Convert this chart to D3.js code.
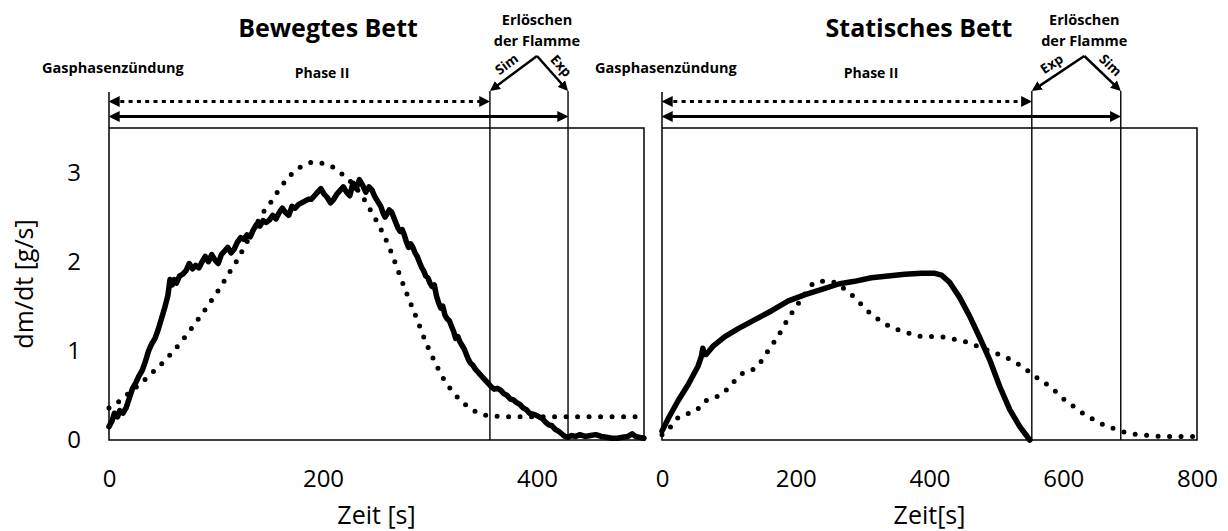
<!DOCTYPE html>
<html>
<head>
<meta charset="utf-8">
<script src="https://cdn.jsdelivr.net/npm/d3@7"></script>
<style>
body { margin: 0; background: #fff; }
svg { display: block; font-family: "Open Sans", sans-serif; }
</style>
</head>
<body>
<div id="chart"></div>
<script>
// ---- data ----
var yTicks = [0, 1, 2, 3];
var movingTicks = [0, 200, 400];
var staticTicks = [0, 200, 400, 600, 800];

// moving bed, experiment [t, dm/dt]
var movingExp = [[0,0.15],[3,0.22],[5,0.30],[8,0.26],[10,0.33],[13,0.30],[16,0.36],[19,0.47],[22,0.58],[25,0.64],
  [28,0.72],[31,0.78],[34,0.88],[37,1.00],[40,1.08],[43,1.14],[46,1.24],[49,1.36],[52,1.48],[55,1.62],
  [57,1.80],[59,1.74],[61,1.80],[63,1.76],[66,1.84],[69,1.86],[72,1.90],[75,1.98],[78,1.92],[81,1.96],
  [84,1.93],[87,2.00],[90,2.06],[93,2.00],[96,2.08],[99,2.02],[102,1.98],[105,2.08],[108,2.12],[111,2.16],
  [114,2.10],[117,2.14],[120,2.22],[123,2.27],[126,2.25],[129,2.30],[132,2.28],[135,2.36],[138,2.42],[141,2.40],
  [144,2.46],[147,2.44],[150,2.47],[153,2.52],[156,2.48],[159,2.55],[162,2.60],[165,2.55],[168,2.52],[171,2.62],
  [174,2.60],[177,2.64],[180,2.66],[183,2.68],[186,2.70],[189,2.70],[192,2.74],[195,2.78],[198,2.82],[201,2.76],
  [204,2.72],[207,2.66],[210,2.70],[213,2.76],[216,2.80],[219,2.84],[222,2.78],[225,2.74],[228,2.88],[231,2.82],
  [234,2.92],[237,2.86],[240,2.78],[243,2.84],[246,2.80],[248,2.74],[250,2.70],[252,2.66],[254,2.62],[256,2.55],
  [258,2.50],[260,2.54],[262,2.58],[264,2.56],[266,2.50],[268,2.44],[270,2.38],[272,2.34],[274,2.36],[276,2.30],
  [278,2.22],[280,2.16],[282,2.20],[284,2.16],[286,2.10],[288,2.06],[290,2.00],[292,1.94],[294,1.90],[296,1.84],
  [298,1.82],[300,1.76],[302,1.72],[304,1.74],[306,1.62],[308,1.54],[310,1.48],[312,1.50],[314,1.40],[316,1.36],
  [318,1.34],[320,1.28],[322,1.22],[324,1.14],[326,1.16],[328,1.10],[330,1.06],[332,1.02],[334,0.96],[336,0.90],
  [338,0.86],[340,0.84],[342,0.80],[345,0.76],[348,0.72],[351,0.68],[354,0.64],[357,0.60],[360,0.57],[363,0.58],
  [366,0.56],[369,0.52],[372,0.50],[375,0.46],[378,0.45],[381,0.42],[384,0.40],[387,0.36],[390,0.34],[393,0.30],
  [396,0.29],[399,0.28],[402,0.26],[405,0.24],[408,0.20],[411,0.17],[414,0.16],[417,0.12],[420,0.10],[423,0.07],
  [426,0.04],[429,0.03],[432,0.05],[436,0.04],[440,0.06],[445,0.04],[450,0.05],[455,0.06],[460,0.04],[465,0.03],
  [470,0.02],[475,0.02],[480,0.03],[485,0.04],[489,0.07],[492,0.04],[496,0.03],[500,0.02]];

// moving bed, simulation
var movingSim = [[0,0.36],[8,0.42],[16,0.50],[24,0.58],[32,0.66],[40,0.75],[48,0.84],[56,0.94],[64,1.05],[72,1.17],
  [80,1.30],[88,1.43],[96,1.57],[104,1.71],[112,1.87],[120,2.02],[128,2.20],[136,2.38],[144,2.55],[152,2.68],
  [160,2.83],[168,2.95],[176,3.04],[184,3.09],[192,3.12],[200,3.10],[208,3.07],[216,3.00],[224,2.92],[232,2.81],
  [240,2.67],[248,2.50],[256,2.32],[264,2.10],[272,1.84],[280,1.59],[288,1.35],[296,1.10],[304,0.89],[312,0.70],
  [320,0.56],[328,0.45],[336,0.37],[344,0.31],[356,0.27],[380,0.26],[420,0.26],[460,0.26],[500,0.26]];

// static bed, experiment
var staticExp = [[0,0.10],[10,0.25],[24,0.44],[39,0.62],[54,0.83],[59,0.94],[61,1.03],[63,0.96],[66,0.96],[76,1.05],
  [94,1.16],[114,1.25],[139,1.35],[164,1.45],[189,1.56],[214,1.63],[239,1.69],[264,1.75],[288,1.78],[313,1.82],
  [338,1.84],[363,1.86],[388,1.87],[408,1.87],[418,1.85],[430,1.77],[445,1.60],[460,1.39],[475,1.15],[490,0.90],
  [505,0.60],[520,0.34],[535,0.15],[550,0.0]];

// static bed, simulation
var staticSim = [[0,0.06],[11,0.13],[21,0.23],[36,0.29],[51,0.33],[63,0.43],[78,0.47],[93,0.54],[105,0.63],[116,0.73],
  [131,0.77],[145,0.85],[155,0.96],[164,1.06],[174,1.17],[183,1.29],[192,1.40],[202,1.51],[212,1.62],[221,1.72],
  [236,1.78],[252,1.78],[266,1.73],[280,1.65],[292,1.57],[304,1.47],[317,1.39],[332,1.31],[347,1.25],[361,1.22],
  [377,1.18],[393,1.16],[410,1.16],[425,1.15],[443,1.12],[459,1.09],[475,1.04],[490,1.00],[507,0.95],[522,0.90],
  [537,0.83],[550,0.76],[564,0.68],[578,0.61],[592,0.52],[605,0.43],[619,0.36],[633,0.28],[648,0.22],[663,0.16],
  [679,0.12],[695,0.08],[712,0.06],[730,0.05],[750,0.04],[800,0.04]];

// flame extinction times [s] : [sim, exp]
var movingEnds = [356, 429];
var staticEnds = [686, 553];

// ---- layout ----
var plotTop = 128, plotBottom = 440, plotW = 535;
var y = d3.scaleLinear().domain([0, 3.5]).range([plotBottom, plotTop]);

var svg = d3.select("#chart").append("svg")
    .attr("width", 1228)
    .attr("height", 531);

// arrow heads
var defs = svg.append("defs");
function addMarker(id, size) {
    defs.append("marker")
        .attr("id", id)
        .attr("viewBox", "0 -5 10 10")
        .attr("refX", 7)
        .attr("refY", 0)
        .attr("markerUnits", "userSpaceOnUse")
        .attr("markerWidth", size)
        .attr("markerHeight", size)
        .attr("orient", "auto-start-reverse")
        .append("path")
            .attr("d", "M0,-5L10,0L0,5Z")
            .attr("fill", "#000");
}
addMarker("head", 11);
addMarker("headSmall", 10);

var panels = [
    {title: "Bewegtes Bett", titleX: 328, phaseX: 322, xTitle: "Zeit [s]", xMax: 500, ticks: movingTicks,
     exp: movingExp, sim: movingSim, ends: movingEnds, left: 109, yAxis: true},
    {title: "Statisches Bett", titleX: 919, phaseX: 871, xTitle: "Zeit[s]", xMax: 800, ticks: staticTicks,
     exp: staticExp, sim: staticSim, ends: staticEnds, left: 662, yAxis: false}
];

panels.forEach(function (p) {
    var x = d3.scaleLinear().domain([0, p.xMax]).range([p.left, p.left + plotW]);
    var g = svg.append("g");

    // frame
    g.append("rect")
        .attr("x", p.left).attr("y", plotTop)
        .attr("width", plotW).attr("height", plotBottom - plotTop)
        .attr("fill", "none").attr("stroke", "#000").attr("stroke-width", 1.5);

    // x axis labels
    g.append("g")
        .attr("transform", "translate(0," + plotBottom + ")")
        .call(d3.axisBottom(x).tickValues(p.ticks).tickFormat(d3.format("d")).tickSize(0).tickPadding(30))
        .attr("font-family", "Open Sans").attr("font-size", 24)
        .call(function (s) { s.select(".domain").remove(); });

    g.append("text")
        .attr("x", p.left + plotW / 2).attr("y", 524)
        .attr("text-anchor", "middle").attr("font-size", 25)
        .text(p.xTitle);

    if (p.yAxis) {
        g.append("g")
            .attr("transform", "translate(" + p.left + ",0)")
            .call(d3.axisLeft(y).tickValues(yTicks).tickFormat(d3.format("d")).tickSize(0).tickPadding(28))
            .attr("font-family", "Open Sans").attr("font-size", 24)
            .call(function (s) { s.select(".domain").remove(); });
        g.append("text")
            .attr("transform", "translate(33," + (plotTop + plotBottom) / 2 + ") rotate(-90)")
            .attr("text-anchor", "middle").attr("font-size", 25)
            .text("dm/dt [g/s]");
    }

    // curves
    var line = d3.line().x(function (d) { return x(d[0]); }).y(function (d) { return y(d[1]); });
    g.append("path")
        .attr("d", line(p.exp))
        .attr("fill", "none").attr("stroke", "#000").attr("stroke-width", 5.5)
        .attr("stroke-linejoin", "round").attr("stroke-linecap", "round");
    g.append("path")
        .attr("d", line.curve(d3.curveMonotoneX)(p.sim))
        .attr("fill", "none").attr("stroke", "#000").attr("stroke-width", 5)
        .attr("stroke-linecap", "round").attr("stroke-dasharray", "0,11.5");

    // extinction lines, sim/exp
    var simX = x(p.ends[0]), expX = x(p.ends[1]);
    var nearX = Math.min(simX, expX), farX = Math.max(simX, expX);
    [simX, expX].forEach(function (lx) {
        g.append("line")
            .attr("x1", lx).attr("x2", lx).attr("y1", 91).attr("y2", plotBottom)
            .attr("stroke", "#000").attr("stroke-width", 1.4);
    });
    g.append("line")
        .attr("x1", p.left).attr("x2", p.left).attr("y1", 92).attr("y2", plotTop)
        .attr("stroke", "#000").attr("stroke-width", 1.5);

    // phase arrows
    g.append("line")
        .attr("x1", p.left + 3).attr("x2", nearX - 3).attr("y1", 101.5).attr("y2", 101.5)
        .attr("stroke", "#000").attr("stroke-width", 3).attr("stroke-dasharray", "4,4.3")
        .attr("marker-start", "url(#head)").attr("marker-end", "url(#head)");
    g.append("line")
        .attr("x1", p.left + 3).attr("x2", farX - 3).attr("y1", 116.5).attr("y2", 116.5)
        .attr("stroke", "#000").attr("stroke-width", 3)
        .attr("marker-start", "url(#head)").attr("marker-end", "url(#head)");

    // extinction pointer
    var ax = (nearX + farX) / 2 + 8, ay = 56;
    [[nearX, simX < expX ? "Sim" : "Exp"], [farX, simX < expX ? "Exp" : "Sim"]].forEach(function (e) {
        var ex = e[0], ey = 91;
        var dx = ex - ax, dy = ey - ay, len = Math.sqrt(dx * dx + dy * dy);
        g.append("line")
            .attr("x1", ax).attr("y1", ay)
            .attr("x2", ex - 3 * dx / len).attr("y2", ey - 3 * dy / len)
            .attr("stroke", "#000").attr("stroke-width", 2.5)
            .attr("marker-end", "url(#headSmall)");
        var ang = dx < 0 ? Math.atan2(-dy, -dx) : Math.atan2(dy, dx);
        g.append("text")
            .attr("transform", "translate(" + (ax + ex) / 2 + "," + (ay + ey) / 2 + ") rotate(" + ang * 180 / Math.PI + ")")
            .attr("dy", "-0.5em").attr("text-anchor", "middle")
            .attr("font-size", 13.5).attr("font-weight", "bold")
            .text(e[1]);
    });

    // header texts
    g.append("text")
        .attr("x", p.titleX).attr("y", 37).attr("text-anchor", "middle")
        .attr("font-size", 25).attr("font-weight", "bold")
        .text(p.title);
    g.append("text")
        .attr("x", ax).attr("y", 25).attr("text-anchor", "middle")
        .attr("font-size", 14.5).attr("font-weight", "bold")
        .text("Erlöschen");
    g.append("text")
        .attr("x", ax).attr("y", 45.5).attr("text-anchor", "middle")
        .attr("font-size", 14.5).attr("font-weight", "bold")
        .text("der Flamme");
    g.append("text")
        .attr("x", p.left - 67).attr("y", 73)
        .attr("font-size", 14.5).attr("font-weight", "bold")
        .text("Gasphasenzündung");
    g.append("text")
        .attr("x", p.phaseX).attr("y", 78).attr("text-anchor", "middle")
        .attr("font-size", 14).attr("font-weight", "bold")
        .text("Phase II");
});
</script>
</body>
</html>
